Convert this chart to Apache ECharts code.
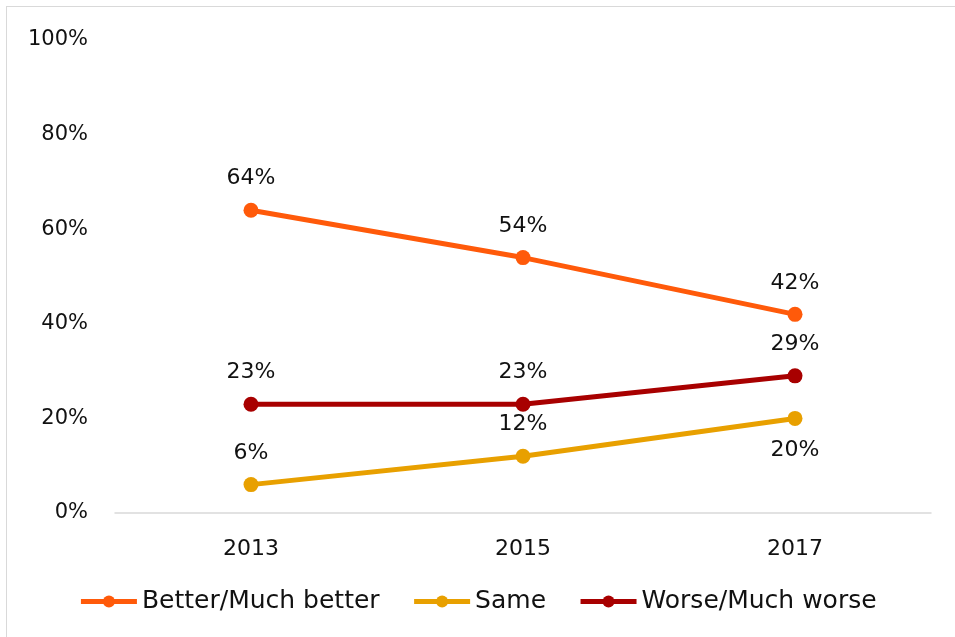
<!DOCTYPE html>
<html>
<head>
<meta charset="utf-8">
<script src="https://cdn.jsdelivr.net/npm/echarts@6/dist/echarts.min.js"></script>
<style>
  html, body { margin: 0; padding: 0; background: #fff; }
  #frame { position: absolute; left: 6px; top: 6px; width: 960px; height: 640px; border: 1.5px solid #d9d9d9; box-sizing: border-box; }
  #chart { position: absolute; left: 0; top: 0; width: 955px; height: 637px; }
</style>
</head>
<body>
<div id="frame"></div>
<div id="chart"></div>
<script>
const years = ['2013', '2015', '2017'];
const better = [64, 54, 42];
const same = [6, 12, 20];
const worse = [23, 23, 29];
const yTicks = [0, 20, 40, 60, 80, 100];

const FONT = '"DejaVu Sans", sans-serif';

function makeSeries(name, data, color, labelPos) {
  return {
    name: name,
    type: 'line',
    data: data.map((v, i) => ({
      value: v,
      label: { position: labelPos[i] }
    })),
    symbol: 'circle',
    symbolSize: 15,
    lineStyle: { width: 5, color: color },
    itemStyle: { color: color },
    label: {
      show: true,
      formatter: '{c}%',
      distance: 13,
      fontFamily: FONT,
      fontSize: 22,
      color: '#111'
    },
    emphasis: { disabled: true }
  };
}

const chart = echarts.init(document.getElementById('chart'));
chart.setOption({
  animation: false,
  grid: { left: 115, right: 24, top: 40, bottom: 124 },
  xAxis: {
    type: 'category',
    data: years,
    boundaryGap: true,
    axisLine: { lineStyle: { color: '#d9d9d9', width: 1.5 } },
    axisTick: { show: false },
    axisLabel: { fontFamily: FONT, fontSize: 22, color: '#111', margin: 25 }
  },
  yAxis: {
    type: 'value',
    min: yTicks[0],
    max: yTicks[yTicks.length - 1],
    interval: 20,
    splitLine: { show: false },
    axisLine: { show: false },
    axisTick: { show: false },
    axisLabel: { fontFamily: FONT, fontSize: 21, color: '#111', margin: 27, formatter: '{value}%' }
  },
  legend: {
    bottom: 18,
    left: 'center',
    itemWidth: 56,
    itemHeight: 15,
    itemGap: 32,
    lineStyle: { width: 5 },
    textStyle: { fontFamily: FONT, fontSize: 25, color: '#111', padding: [0, 0, 0, 0] },
    data: ['Better/Much better', 'Same', 'Worse/Much worse']
  },
  series: [
    makeSeries('Better/Much better', better, '#FF5A0A', ['top', 'top', 'top']),
    makeSeries('Same', same, '#E8A000', ['top', 'top', 'bottom']),
    makeSeries('Worse/Much worse', worse, '#A80000', ['top', 'top', 'top'])
  ]
});
</script>
</body>
</html>
